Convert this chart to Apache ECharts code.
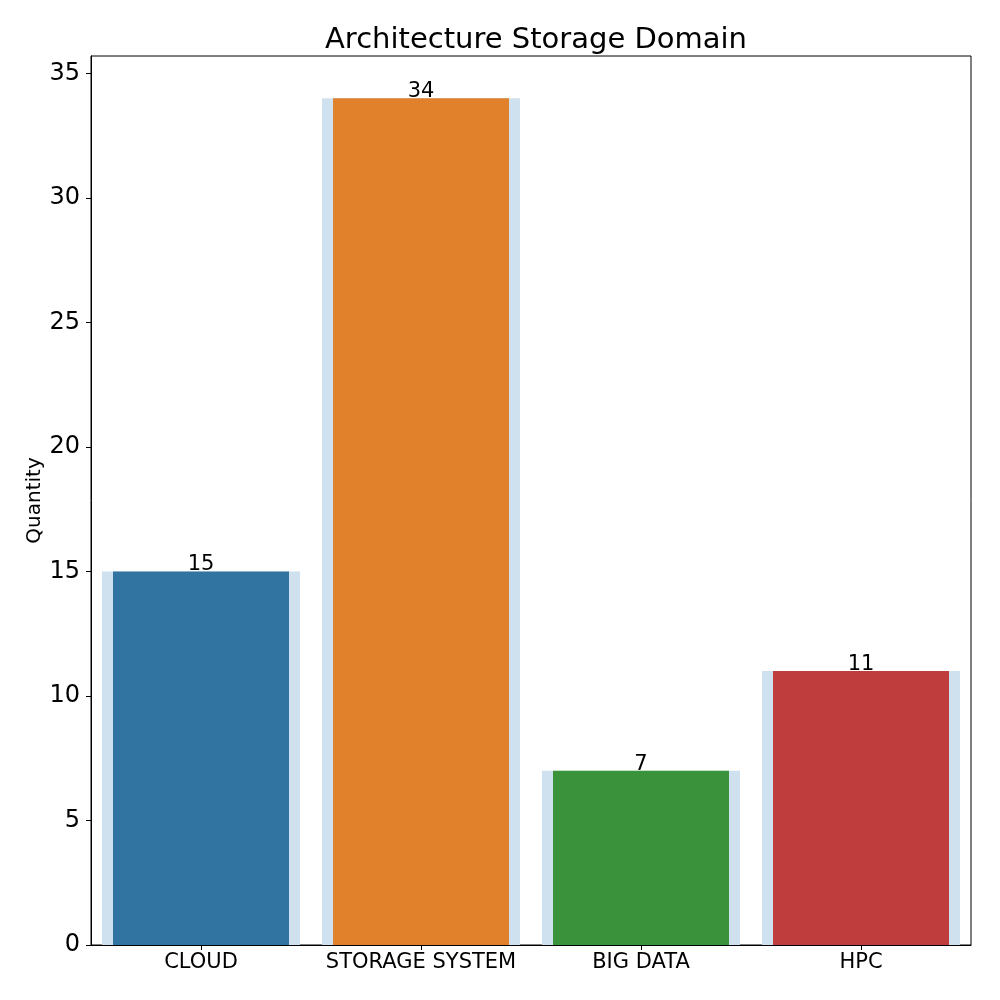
<!DOCTYPE html>
<html>
<head>
<meta charset="utf-8">
<script src="https://cdn.jsdelivr.net/npm/echarts@6/dist/echarts.min.js"></script>
<style>html,body{margin:0;padding:0;background:#fff;}#c{width:1000px;height:1000px;}</style>
</head>
<body>
<div id="c"></div>
<script>
const categories = ['CLOUD', 'STORAGE SYSTEM', 'BIG DATA', 'HPC'];
const quantities = [15, 34, 7, 11];
const barColors = ['#3274a1', '#e1812c', '#3a923a', '#c03d3e'];
const yTicks = [0, 5, 10, 15, 20, 25, 30, 35];

const font = 'DejaVu Sans';
const chart = echarts.init(document.getElementById('c'), null, {renderer: 'canvas'});
chart.setOption({
  animation: false,
  backgroundColor: '#fff',
  title: {
    text: 'Architecture Storage Domain',
    left: 531, textAlign: 'center', top: 21,
    textStyle: {fontFamily: font, fontSize: 29, fontWeight: 'normal', color: '#000'}
  },
  grid: {
    left: 91, right: 29, top: 56, bottom: 55,
    show: true, borderColor: '#000', borderWidth: 1, backgroundColor: 'transparent',
    containLabel: false
  },
  xAxis: [{
    type: 'category',
    data: categories,
    axisLine: {show: true, lineStyle: {color: '#000', width: 1}},
    axisTick: {show: true, alignWithLabel: true, length: 5, lineStyle: {color: '#000'}},
    axisLabel: {fontFamily: font, fontSize: 21, color: '#000', margin: 7, interval: 0},
    splitLine: {show: false}
  }, {
    type: 'category',
    data: categories,
    position: 'bottom',
    show: false
  }],
  yAxis: {
    type: 'value',
    min: 0, max: 35.7, interval: 5,
    name: 'Quantity', nameLocation: 'middle', nameGap: 46, nameRotate: 90,
    nameMoveOverlap: false,
    nameTextStyle: {fontFamily: font, fontSize: 20, color: '#000'},
    axisLine: {show: true, lineStyle: {color: '#000', width: 1}},
    axisTick: {show: true, length: 5, lineStyle: {color: '#000'}},
    axisLabel: {
      fontFamily: font, fontSize: 24, color: '#000', margin: 11,
      showMaxLabel: false,
      formatter: v => (yTicks.indexOf(v) >= 0 ? String(v) : '')
    },
    splitLine: {show: false}
  },
  series: [
    {
      type: 'bar',
      xAxisIndex: 1,
      data: quantities,
      barWidth: 198,
      itemStyle: {color: '#cfe1ee'},
      silent: true,
      z: 1
    },
    {
      type: 'bar',
      xAxisIndex: 0,
      data: quantities.map((v, i) => ({value: v, itemStyle: {color: barColors[i]}})),
      barWidth: 176,
      z: 2,
      label: {
        show: true, position: 'top', distance: -4,
        fontFamily: font, fontSize: 21, color: '#000'
      }
    }
  ]
});
</script>
</body>
</html>
